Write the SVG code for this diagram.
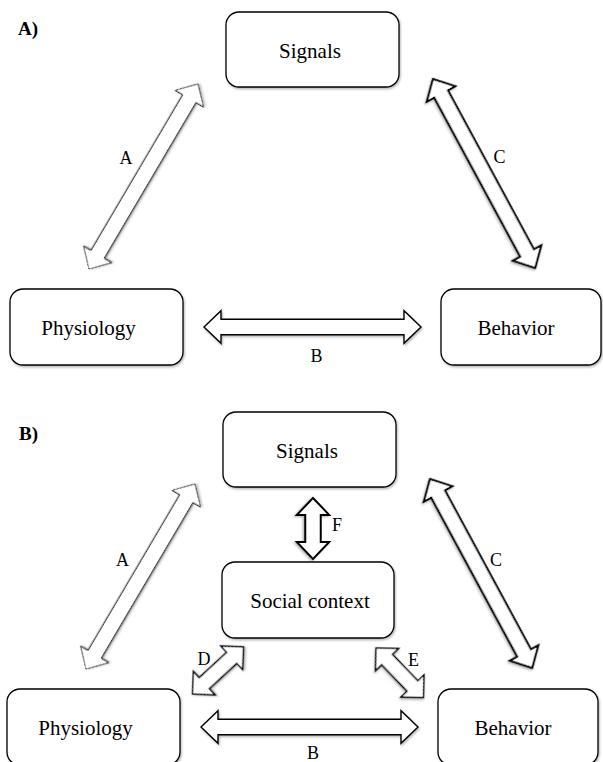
<svg xmlns="http://www.w3.org/2000/svg" width="603" height="762" viewBox="0 0 603 762">
<defs>
<filter id="sh" x="-10%" y="-10%" width="130%" height="140%">
<feDropShadow dx="1" dy="1.5" stdDeviation="1" flood-color="#000" flood-opacity="0.3"/>
</filter>
<style>
.box{fill:#fff;stroke:#000;stroke-width:1.3;filter:url(#sh)}
.ar{fill:#fff;stroke:#000;stroke-linejoin:miter;filter:url(#sh)}
.thin{stroke-width:1}
.med{stroke-width:1.4}
.thick{stroke-width:2}
</style>
</defs>
<text x="18" y="35" font-family="Liberation Serif, Times New Roman, serif" font-size="19" font-weight="bold">A)</text>
<text x="19" y="440" font-family="Liberation Serif, Times New Roman, serif" font-size="19" font-weight="bold">B)</text>
<g id="connectors">
<polygon class="ar thin" transform="translate(89,269) rotate(-59.5)" points="0,0 17,-16.25 17,-7.75 197.7,-7.75 197.7,-16.25 214.7,0 197.7,16.25 197.7,7.75 17,7.75 17,16.25"/>
<polygon class="ar thick" transform="translate(433,79) rotate(61.6)" points="0,0 17,-16.25 17,-7.75 197.8,-7.75 197.8,-16.25 214.8,0 197.8,16.25 197.8,7.75 17,7.75 17,16.25"/>
<polygon class="ar med" transform="translate(204,327)" points="0,0 17,-16.25 17,-7.75 200,-7.75 200,-16.25 217,0 200,16.25 200,7.75 17,7.75 17,16.25"/>
<polygon class="ar thin" transform="translate(86,669) rotate(-59.5)" points="0,0 17,-16.25 17,-7.75 197.7,-7.75 197.7,-16.25 214.7,0 197.7,16.25 197.7,7.75 17,7.75 17,16.25"/>
<polygon class="ar thick" transform="translate(430,479) rotate(61.6)" points="0,0 17,-16.25 17,-7.75 197.8,-7.75 197.8,-16.25 214.8,0 197.8,16.25 197.8,7.75 17,7.75 17,16.25"/>
<polygon class="ar med" transform="translate(201,727)" points="0,0 17,-16.25 17,-7.75 200,-7.75 200,-16.25 217,0 200,16.25 200,7.75 17,7.75 17,16.25"/>
<polygon class="ar thick" transform="translate(313,498) rotate(90)" points="0,0 17,-16.25 17,-7.75 44,-7.75 44,-16.25 61,0 44,16.25 44,7.75 17,7.75 17,16.25"/>
<polygon class="ar med" transform="translate(192.5,694) rotate(-42.7)" points="0,0 16,-16 16,-7.5 53.4,-7.5 53.4,-16 69.4,0 53.4,16 53.4,7.5 16,7.5 16,16"/>
<polygon class="ar med" transform="translate(376,648) rotate(46.2)" points="0,0 16,-16 16,-7.5 52.6,-7.5 52.6,-16 68.6,0 52.6,16 52.6,7.5 16,7.5 16,16"/>
<g font-family="Liberation Serif, Times New Roman, serif" font-size="18" text-anchor="middle">
<text x="126" y="164">A</text>
<text x="499.5" y="163">C</text>
<text x="316.5" y="362">B</text>
<text x="122.5" y="566">A</text>
<text x="496" y="566">C</text>
<text x="313" y="759">B</text>
<text x="204" y="664.5">D</text>
<text x="413.5" y="666">E</text>
<text x="337" y="531">F</text>
</g>
</g>
<g font-family="Liberation Serif, Times New Roman, serif" font-size="21" text-anchor="middle">
<g id="signalsA"><rect class="box" x="226" y="12" width="173" height="75" rx="13"/><text x="310" y="58">Signals</text></g>
<g id="physiologyA"><rect class="box" x="10" y="289" width="173" height="76" rx="13"/><text x="88.5" y="335">Physiology</text></g>
<g id="behaviorA"><rect class="box" x="441" y="289" width="160" height="76" rx="13"/><text x="516" y="335">Behavior</text></g>
<g id="signalsB"><rect class="box" x="223" y="412" width="173" height="75" rx="13"/><text x="307" y="458">Signals</text></g>
<g id="socialB"><rect class="box" x="222" y="562" width="172" height="76" rx="13"/><text x="310" y="608">Social context</text></g>
<g id="physiologyB"><rect class="box" x="7" y="689" width="173" height="76" rx="13"/><text x="85.5" y="735">Physiology</text></g>
<g id="behaviorB"><rect class="box" x="438" y="689" width="160" height="76" rx="13"/><text x="513" y="735">Behavior</text></g>
</g>
</svg>
